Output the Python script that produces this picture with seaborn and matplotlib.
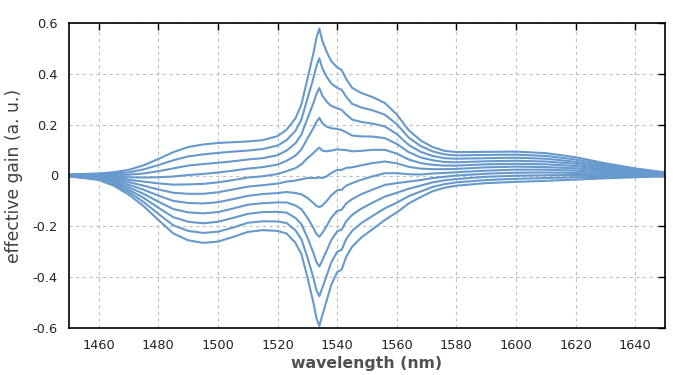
import pandas as pd
import seaborn as sns
import matplotlib
matplotlib.use("Agg")
import matplotlib.pyplot as plt

# wavelength grid (nm) and effective gain for inversion levels 0.0 ... 1.0
wavelength = [1450, 1455, 1460, 1465, 1470, 1475, 1480, 1485, 1490, 1495, 1500, 1505, 1510, 1515, 1520,
              1523, 1526, 1528, 1530, 1532, 1533, 1534, 1535, 1536.5, 1538, 1540, 1541.5, 1543, 1545, 1548,
              1552, 1556, 1560, 1564, 1568, 1572, 1576, 1580, 1590, 1600, 1610, 1620, 1630, 1640, 1650]
inversion = [0.0, 0.1, 0.2, 0.3, 0.4, 0.5, 0.6, 0.7, 0.8, 0.9, 1.0]

gain_00 = [-0.004, -0.010, -0.018, -0.040, -0.075, -0.120, -0.175, -0.228, -0.255, -0.265, -0.260, -0.242, -0.222, -0.215, -0.218,
           -0.228, -0.265, -0.310, -0.400, -0.500, -0.560, -0.592, -0.550, -0.490, -0.430, -0.380, -0.370, -0.320, -0.280, -0.245,
           -0.210, -0.175, -0.145, -0.110, -0.085, -0.062, -0.048, -0.040, -0.030, -0.025, -0.021, -0.016, -0.011, -0.007, -0.003]
gain_01 = [-0.003, -0.008, -0.015, -0.035, -0.065, -0.104, -0.151, -0.196, -0.218, -0.226, -0.221, -0.205, -0.186, -0.180, -0.181,
           -0.187, -0.216, -0.251, -0.322, -0.402, -0.450, -0.475, -0.442, -0.393, -0.342, -0.300, -0.292, -0.250, -0.218, -0.188,
           -0.158, -0.129, -0.107, -0.081, -0.063, -0.045, -0.034, -0.027, -0.018, -0.013, -0.010, -0.007, -0.005, -0.004, -0.002]
gain_02 = [-0.002, -0.007, -0.013, -0.029, -0.056, -0.088, -0.127, -0.164, -0.182, -0.188, -0.182, -0.167, -0.151, -0.144, -0.143,
           -0.146, -0.167, -0.192, -0.244, -0.304, -0.340, -0.358, -0.334, -0.295, -0.254, -0.219, -0.213, -0.180, -0.155, -0.131,
           -0.106, -0.083, -0.068, -0.052, -0.040, -0.027, -0.019, -0.014, -0.005, -0.001, 0.001, 0.002, 0.001, 0.000, 0.000]
gain_03 = [-0.002, -0.005, -0.010, -0.024, -0.046, -0.072, -0.103, -0.132, -0.145, -0.149, -0.144, -0.130, -0.115, -0.109, -0.106,
           -0.106, -0.118, -0.133, -0.166, -0.206, -0.230, -0.241, -0.226, -0.198, -0.166, -0.139, -0.135, -0.110, -0.093, -0.074,
           -0.055, -0.037, -0.030, -0.024, -0.018, -0.010, -0.005, 0.000, 0.007, 0.011, 0.012, 0.010, 0.007, 0.004, 0.002]
gain_04 = [-0.001, -0.004, -0.008, -0.019, -0.036, -0.056, -0.079, -0.100, -0.108, -0.110, -0.105, -0.093, -0.080, -0.073, -0.069,
           -0.065, -0.069, -0.074, -0.088, -0.108, -0.120, -0.124, -0.118, -0.100, -0.078, -0.058, -0.056, -0.040, -0.030, -0.017,
           -0.003, 0.009, 0.009, 0.005, 0.004, 0.008, 0.010, 0.013, 0.019, 0.023, 0.023, 0.019, 0.013, 0.007, 0.003]
gain_05 = [0.000, -0.002, -0.005, -0.014, -0.026, -0.040, -0.055, -0.068, -0.072, -0.072, -0.066, -0.055, -0.044, -0.038, -0.032,
           -0.024, -0.020, -0.015, -0.010, -0.010, -0.010, -0.007, -0.010, -0.003, 0.010, 0.022, 0.022, 0.030, 0.032, 0.040,
           0.049, 0.055, 0.048, 0.034, 0.027, 0.025, 0.025, 0.026, 0.032, 0.035, 0.033, 0.028, 0.019, 0.011, 0.005]
gain_06 = [0.001, 0.000, -0.002, -0.008, -0.017, -0.024, -0.031, -0.036, -0.035, -0.033, -0.027, -0.018, -0.008, -0.003, 0.006,
           0.017, 0.029, 0.044, 0.068, 0.088, 0.100, 0.110, 0.098, 0.095, 0.098, 0.103, 0.101, 0.100, 0.095, 0.097,
           0.101, 0.101, 0.086, 0.063, 0.049, 0.042, 0.039, 0.039, 0.044, 0.046, 0.044, 0.037, 0.024, 0.014, 0.006]
gain_07 = [0.002, 0.001, 0.000, -0.003, -0.007, -0.008, -0.007, -0.004, 0.002, 0.006, 0.012, 0.019, 0.027, 0.033, 0.043,
           0.058, 0.078, 0.103, 0.146, 0.186, 0.210, 0.227, 0.206, 0.192, 0.186, 0.183, 0.179, 0.170, 0.157, 0.154,
           0.153, 0.147, 0.124, 0.092, 0.071, 0.060, 0.053, 0.052, 0.056, 0.058, 0.055, 0.046, 0.030, 0.017, 0.007]
gain_08 = [0.002, 0.003, 0.003, 0.002, 0.003, 0.008, 0.017, 0.028, 0.039, 0.045, 0.050, 0.056, 0.063, 0.068, 0.080,
           0.098, 0.127, 0.162, 0.224, 0.284, 0.320, 0.344, 0.314, 0.290, 0.274, 0.264, 0.258, 0.240, 0.220, 0.211,
           0.204, 0.193, 0.163, 0.120, 0.093, 0.077, 0.068, 0.066, 0.068, 0.070, 0.066, 0.054, 0.036, 0.021, 0.009]
gain_09 = [0.003, 0.004, 0.005, 0.008, 0.012, 0.024, 0.041, 0.060, 0.075, 0.083, 0.089, 0.094, 0.098, 0.104, 0.118,
           0.139, 0.176, 0.221, 0.302, 0.382, 0.430, 0.461, 0.422, 0.388, 0.362, 0.345, 0.337, 0.310, 0.282, 0.268,
           0.256, 0.239, 0.202, 0.149, 0.116, 0.095, 0.083, 0.079, 0.081, 0.082, 0.077, 0.063, 0.042, 0.025, 0.011]
gain_10 = [0.004, 0.006, 0.008, 0.013, 0.022, 0.040, 0.065, 0.092, 0.112, 0.122, 0.128, 0.131, 0.134, 0.139, 0.155,
           0.180, 0.225, 0.280, 0.380, 0.480, 0.540, 0.578, 0.530, 0.485, 0.450, 0.425, 0.415, 0.380, 0.345, 0.325,
           0.308, 0.285, 0.240, 0.178, 0.138, 0.112, 0.097, 0.092, 0.093, 0.094, 0.088, 0.072, 0.048, 0.028, 0.012]

gains = [gain_00, gain_01, gain_02, gain_03, gain_04, gain_05, gain_06, gain_07, gain_08, gain_09, gain_10]

x_ticks = [1460, 1480, 1500, 1520, 1540, 1560, 1580, 1600, 1620, 1640]
y_ticks = [-0.6, -0.4, -0.2, 0, 0.2, 0.4, 0.6]
y_tick_labels = ["-0.6", "-0.4", "-0.2", "0", "0.2", "0.4", "0.6"]

LINE_COLOR = "#6699cc"

df = pd.DataFrame([
    {"wavelength": w, "gain": g, "inversion": n}
    for n, series in zip(inversion, gains)
    for w, g in zip(wavelength, series)
])

sns.set_style("white")
plt.rcParams['font.family'] = ['DejaVu Sans']
plt.rcParams['axes.unicode_minus'] = False

fig = plt.figure(figsize=(7, 3.75), dpi=100)
ax = fig.add_axes([0.0986, 0.1253, 0.8514, 0.8134])

sns.lineplot(data=df, x="wavelength", y="gain", hue="inversion",
             palette=[LINE_COLOR] * len(inversion), legend=False, lw=1.5, ax=ax)

ax.set_xlim(1450, 1650)
ax.set_ylim(-0.6, 0.6)
ax.set_xticks(x_ticks)
ax.set_yticks(y_ticks)
ax.set_yticklabels(y_tick_labels)
ax.grid(True, color="#c0c0c0", linestyle=(0, (3, 3)), lw=0.8)
for s in ax.spines.values():
    s.set_color("black")
    s.set_linewidth(1.2)
ax.tick_params(direction="in", length=5, width=1, top=True, right=True,
               labelsize=9.3, colors="black", labelcolor="#222222", pad=8)
ax.set_xlabel("wavelength (nm)", fontsize=11.3, fontweight="bold", color="#505050", labelpad=3)
ax.set_ylabel("effective gain (a. u.)", fontsize=12.3, color="#404040", labelpad=7)

fig.savefig("out.png", dpi=100)
